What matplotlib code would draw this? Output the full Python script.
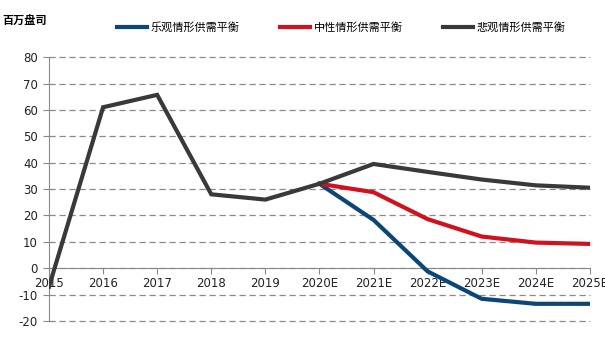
import matplotlib.pyplot as plt

plt.rcParams['font.family'] = ['Noto Sans CJK SC', 'DejaVu Sans']
plt.rcParams['axes.unicode_minus'] = False

# categories and series (unit: "百万盘司")
years = ['2015', '2016', '2017', '2018', '2019', '2020E',
         '2021E', '2022E', '2023E', '2024E', '2025E']
pessimistic = [-7, 61, 65.7, 28, 26, 32, 39.5, 36.5, 33.6, 31.4, 30.5]
neutral = [32, 28.8, 18.6, 12, 9.7, 9.2]
optimistic = [32, 18.3, -1.2, -11.6, -13.5, -13.5]
proj_start = 5  # index of 2020E

COLORS = {
    'optimistic': '#0B4676',
    'neutral': '#D0111E',
    'pessimistic': '#3B3839',
}

fig = plt.figure(figsize=(6.05, 3.4), dpi=100)
ax = fig.add_axes([0.081, 0.056, 0.894, 0.776])

x_all = list(range(len(years)))
x_proj = x_all[proj_start:]

ax.plot(x_proj, optimistic, color=COLORS['optimistic'], lw=3,
        label='乐观情形供需平衡', zorder=3, solid_joinstyle='miter')
ax.plot(x_proj, neutral, color=COLORS['neutral'], lw=3,
        label='中性情形供需平衡', zorder=4, solid_joinstyle='miter')
ax.plot(x_all, pessimistic, color=COLORS['pessimistic'], lw=3,
        label='悲观情形供需平衡', zorder=5, solid_joinstyle='miter')

ax.set_xlim(0, len(years) - 1)
ax.set_ylim(-20, 80)
ax.set_yticks(range(-20, 81, 10))
ax.set_xticks(x_all)
ax.set_xticklabels(years)

ax.grid(axis='y', color='#8a8a8a', linestyle=(0, (5, 3)), lw=0.9)
for gl in ax.get_ygridlines():
    gl.set_clip_on(False)
ax.set_axisbelow(True)

for side in ['top', 'right']:
    ax.spines[side].set_visible(False)
ax.spines['bottom'].set_position(('data', 0))
ax.spines['bottom'].set_color('#8a8a8a')
ax.spines['left'].set_color('#8a8a8a')
ax.tick_params(axis='x', direction='out', length=4, color='#8a8a8a',
               labelsize=8.5, pad=2, labelcolor='#222222')
ax.tick_params(axis='y', direction='out', length=4, color='#8a8a8a',
               labelsize=8.5, pad=4, labelcolor='#222222')
for lbl in ax.get_xticklabels() + ax.get_yticklabels():
    lbl.set_fontfamily('DejaVu Sans')
for lbl in ax.get_xticklabels():
    lbl.set_zorder(6)

fig.text(0.004, 0.94, '百万盘司', fontsize=8, fontweight='bold',
         ha='left', va='center')

fig.legend(loc='center left', bbox_to_anchor=(0.193, 0.92), ncol=3,
           frameon=False, fontsize=8, handlelength=2.7, handletextpad=0.35,
           columnspacing=3.6, borderpad=0, borderaxespad=0)

fig.savefig('out.png', dpi=100)
